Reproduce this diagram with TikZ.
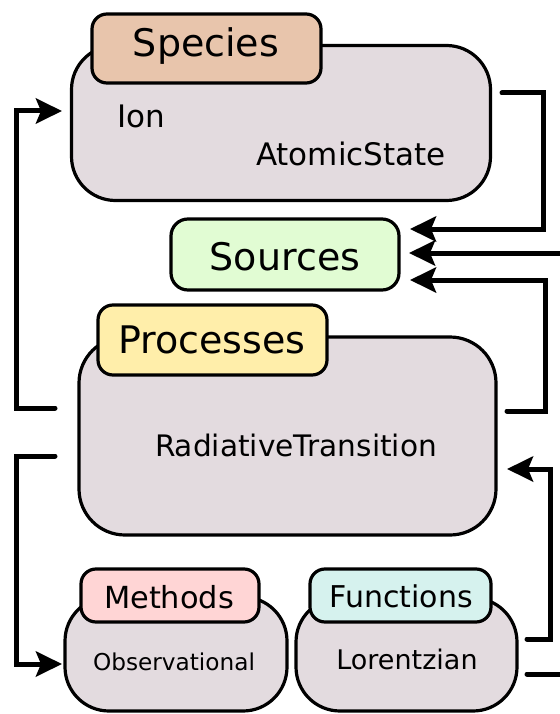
\documentclass[tikz,border=0pt]{standalone}
\usepackage{fontspec}
\setmainfont{DejaVu Sans}
\usetikzlibrary{arrows.meta,calc}
\definecolor{boxgray}{HTML}{E3DBDF}
\definecolor{speciesc}{HTML}{E8C5AC}
\definecolor{sourcesc}{HTML}{E1FCD3}
\definecolor{processc}{HTML}{FFEEAA}
\definecolor{methodc}{HTML}{FFD5D5}
\definecolor{functc}{HTML}{D6F2EE}
\tikzset{
  mainbox/.style={draw=black, line width=3.2pt, fill=boxgray, rounded corners=#1, inner sep=0pt},
  tabbox/.style={draw=black, line width=3.2pt, fill=#1, rounded corners=15pt, inner sep=0pt},
  bigtxt/.style={anchor=base, inner sep=0pt, font=\fontsize{38}{40}\selectfont},
  midtxt/.style={anchor=base, inner sep=0pt, font=\fontsize{31}{33}\selectfont},
  smalltxt/.style={anchor=base, inner sep=0pt, font=\fontsize{#1}{#1}\selectfont},
  arr/.style={line width=5pt, line cap=round, line join=miter, -{Stealth[length=26pt, width=25pt, inset=5pt]}},
  plain/.style={line width=5pt, line cap=round, line join=miter}
}
\begin{document}
\begin{tikzpicture}[x=1pt, y=-1pt]
\useasboundingbox (0,0) rectangle (559,714);
% boxes
\node[mainbox=44pt, minimum width=419pt, minimum height=155pt] (species) at (281,123) {};
\node[tabbox=speciesc, minimum width=229pt, minimum height=69pt] (speciestab) at (206.5,48.5) {};
\node[tabbox=sourcesc, minimum width=228pt, minimum height=71pt, rounded corners=17pt] (sources) at (285,254.5) {};
\node[mainbox=46pt, minimum width=417pt, minimum height=198pt] (processes) at (287.5,436) {};
\node[tabbox=processc, minimum width=229pt, minimum height=70pt] (processtab) at (212.5,340) {};
\node[mainbox=44pt, minimum width=222pt, minimum height=114pt] (methods) at (176,654) {};
\node[tabbox=methodc, minimum width=178pt, minimum height=53pt] (methodtab) at (170,595.5) {};
\node[mainbox=44pt, minimum width=221pt, minimum height=113pt] (functions) at (406.5,654.5) {};
\node[tabbox=functc, minimum width=181pt, minimum height=53pt] (functab) at (400.5,595.5) {};
% texts
\node[bigtxt] (tSpecies) at (206,57) {Species};
\node[midtxt] (tIon) at (141,128) {Ion};
\node[midtxt] (tAtomic) at (351,166) {AtomicState};
\node[bigtxt] (tSources) at (285,270) {Sources};
\node[bigtxt] (tProcesses) at (212,353) {Processes};
\node[smalltxt=29.6] (tRad) at (296,456) {RadiativeTransition};
\node[smalltxt=30.4] (tMethods) at (169,608) {Methods};
\node[smalltxt=23.2] (tObs) at (174,670) {Observational};
\node[smalltxt=30] (tFunctions) at (401,607) {Functions};
\node[smalltxt=27] (tLor) at (407,669) {Lorentzian};
% connector ends
\coordinate (pOutA) at (55,408);
\coordinate (sIn) at (62,111);
\coordinate (sOut) at (502,93);
\coordinate (srcInA) at (410,229);
\coordinate (extA) at (570,253);
\coordinate (srcInB) at (409,253);
\coordinate (pOutB) at (507,411);
\coordinate (srcInC) at (410,280);
\coordinate (pOutC) at (55,456);
\coordinate (mIn) at (62,664);
\coordinate (fOutA) at (527,639);
\coordinate (pIn) at (507,469);
\coordinate (fOutB) at (527,674);
\coordinate (extB) at (570,674);
% connectors
\draw[arr] (pOutA) -- (16,408) |- (sIn);
\draw[arr] (sOut) -- (543,93) |- (srcInA);
\draw[arr] (extA) -- (srcInB);
\draw[arr] (pOutB) -- (545,411) |- (srcInC);
\draw[arr] (pOutC) -- (16,456) |- (mIn);
\draw[arr] (fOutA) -- (550,639) |- (pIn);
\draw[plain] (fOutB) -- (extB);
\end{tikzpicture}
\end{document}
